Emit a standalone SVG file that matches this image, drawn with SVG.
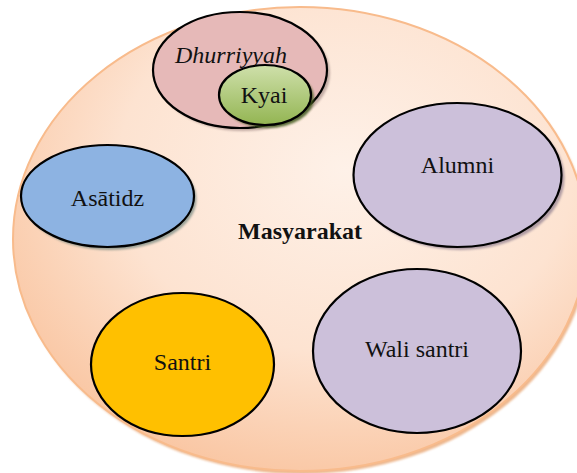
<svg xmlns="http://www.w3.org/2000/svg" width="577" height="473" viewBox="0 0 577 473">
<defs>
<radialGradient id="bg" cx="0.58" cy="0.35" r="0.72">
<stop offset="0" stop-color="#fef1e8"/>
<stop offset="0.55" stop-color="#fde3d1"/>
<stop offset="1" stop-color="#f9c29c"/>
</radialGradient>
<linearGradient id="green" x1="0" y1="0" x2="0" y2="1">
<stop offset="0" stop-color="#cfe0ab"/>
<stop offset="1" stop-color="#93b552"/>
</linearGradient>
<filter id="blur" x="-10%" y="-10%" width="120%" height="120%">
<feGaussianBlur stdDeviation="1.2"/>
</filter>
</defs>
<style>
.node{stroke:#000;stroke-width:2.2}
.sh{filter:url(#blur)}
.t{font-family:"Liberation Serif","Times New Roman",serif;font-size:24px;fill:#111;text-anchor:middle}
</style>
<g id="masyarakat">
<ellipse cx="302" cy="242" rx="287" ry="232" fill="#e9a571" opacity="0.8" class="sh"/>
<ellipse cx="300" cy="239" rx="287" ry="232" fill="url(#bg)" stroke="#f8bb8c" stroke-width="2"/>
<text class="t" x="300" y="239" font-weight="bold">Masyarakat</text>
</g>
<g id="connectors"></g>
<g id="dhurriyyah">
<ellipse cx="243" cy="73" rx="87" ry="58" fill="#7a5f5f" opacity="0.45" class="sh"/>
<ellipse cx="240" cy="70" rx="87" ry="58" fill="#e6b9b8" class="node"/>
<text class="t" x="231" y="63" font-style="italic">Dhurriyyah</text>
</g>
<g id="kyai">
<ellipse cx="268" cy="98" rx="46" ry="30" fill="#3f5a1c" opacity="0.8" class="sh"/>
<ellipse cx="265" cy="95" rx="46" ry="30" fill="url(#green)" class="node"/>
<text class="t" x="264" y="103">Kyai</text>
</g>
<g id="asatidz">
<ellipse cx="110" cy="199" rx="86.5" ry="51" fill="#4a6a66" opacity="0.55" class="sh"/>
<ellipse cx="107.5" cy="196" rx="86.5" ry="51" fill="#8db3e2" class="node"/>
<text class="t" x="107.5" y="206">Asātidz</text>
</g>
<g id="alumni">
<ellipse cx="460.5" cy="178" rx="104" ry="72" fill="#6e5f7a" opacity="0.55" class="sh"/>
<ellipse cx="457.5" cy="175" rx="104" ry="72" fill="#ccc0da" class="node"/>
<text class="t" x="457.5" y="173">Alumni</text>
</g>
<g id="wali-santri">
<ellipse cx="417" cy="351" rx="104" ry="82" fill="#ccc0da" class="node"/>
<text class="t" x="417" y="357">Wali santri</text>
</g>
<g id="santri">
<ellipse cx="182.5" cy="364.5" rx="91.5" ry="71.5" fill="#ffc000" class="node"/>
<text class="t" x="182.5" y="370">Santri</text>
</g>
</svg>
